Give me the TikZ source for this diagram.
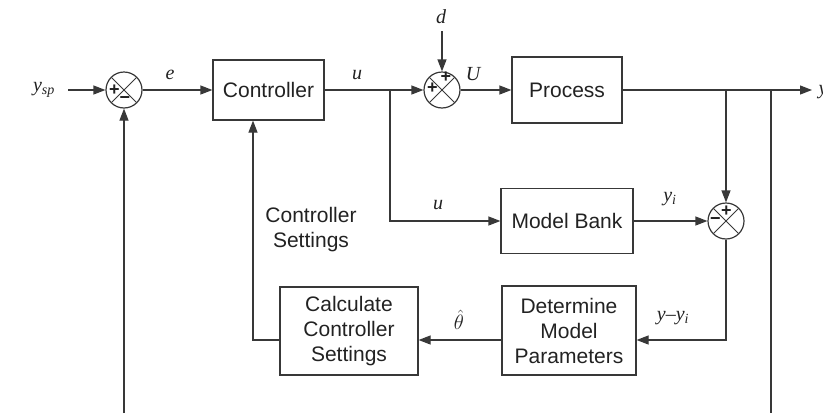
\documentclass[tikz,border=0pt]{standalone}
\usepackage{fontspec}
\setmainfont{Liberation Serif}
\newfontfamily\boxfont{Liberation Sans}
\usetikzlibrary{arrows.meta}
\definecolor{ln}{HTML}{383838}
\definecolor{txt}{HTML}{222222}
\begin{document}
\begin{tikzpicture}[x=1pt,y=-1pt,
  line width=1.2pt, draw=ln,
  blk/.style={draw=ln, line width=1.2pt, inner sep=2pt, align=center, text=txt,
    font=\boxfont\fontsize{21}{25}\selectfont},
  sum/.style={circle, draw=ln, line width=1.2pt, minimum size=36pt, inner sep=0pt,
    path picture={\draw[ln,line width=1pt] (path picture bounding box.north west) -- (path picture bounding box.south east)
      (path picture bounding box.north east) -- (path picture bounding box.south west);}},
  lbl/.style={font=\fontsize{20}{24}\selectfont\itshape, text=txt, inner sep=1pt},
  txtlbl/.style={font=\boxfont\fontsize{21}{25}\selectfont, text=txt, align=center},
  sgn/.style={font=\boxfont\bfseries\fontsize{18}{18}\selectfont, text=txt, inner sep=0pt},
  arr/.style={draw=ln, -{Triangle[length=12pt,width=9pt]}}]
\useasboundingbox (0,0) rectangle (823,413);

% nodes
\node[lbl] (ysp) at (44,90) {y\textsubscript{\itshape sp}};
\node[sum] (s1) at (124,90) {};
\node[sgn] (p1) at (114.5,90) {+};
\node[sgn] (m1) at (125,100.5) {−};
\node[blk, minimum width=111pt, minimum height=60pt] (ctrl) at (268.5,90) {Controller};
\node[sum] (s2) at (442,90) {};
\node[sgn] (p2a) at (432.5,88.5) {+};
\node[sgn] (p2b) at (446,77.5) {+};
\node[blk, minimum width=110pt, minimum height=66pt] (proc) at (567,90) {Process};
\node[sum] (s3) at (726,221) {};
\node[sgn] (p3) at (726.5,211) {+};
\node[sgn] (m3) at (715.5,221) {−};
\node[blk, minimum width=132pt, minimum height=65pt] (mb) at (567,221) {Model Bank};
\node[blk, minimum width=134pt, minimum height=89pt] (det) at (569,330.5) {Determine\\Model\\Parameters};
\node[blk, minimum width=138pt, minimum height=88pt] (calc) at (349,331) {Calculate\\Controller\\Settings};

% labels
\node[lbl] (le) at (170,75) {e};
\node[lbl] (lu1) at (357,75) {u};
\node[lbl] (ld) at (441,17) {d};
\node[lbl] (lU) at (473,74) {U};
\node[lbl, anchor=west, inner sep=0pt] (ly) at (818,92) {y};
\node[lbl] (lu2) at (438,205) {u};
\node[lbl] (lyi) at (670,199) {y\textsubscript{\itshape i}};
\node[lbl] (lerr) at (673,318) {y–y\textsubscript{\itshape i}};
\node[lbl] (lth) at (459,320) {$\hat{\theta}$};
\node[txtlbl] (lcs) at (311,230) {Controller\\Settings};

% coordinates
\coordinate (in) at (68,90);
\coordinate (b1) at (390,90);
\coordinate (b2) at (726,90);
\coordinate (b3) at (771,90);
\coordinate (b3end) at (771,413);
\coordinate (out) at (812,90);
\coordinate (c1) at (726,340);
\coordinate (c2) at (253,340);
\coordinate (fb) at (124,413);
\coordinate (dtop) at (442,31);

% connectors
\draw[arr] (in) -- (s1);
\draw[arr] (s1) -- (ctrl);
\draw[arr] (ctrl) -- (s2);
\draw[arr] (dtop) -- (s2);
\draw[arr] (s2) -- (proc);
\draw[arr] (proc) -- (out);
\draw (b3) -- (b3end);
\draw[arr] (b2) -- (s3);
\draw[arr] (b1) |- (mb.west);
\draw[arr] (mb) -- (s3);
\draw[arr] (s3) -- (c1) -- (det.east|-c1);
\draw[arr] (det.west|-c1) -- (calc.east|-c1);
\draw[arr] (calc.west|-c1) -- (c2) -- (c2|-ctrl.south);
\draw[arr] (fb) -- (s1);
\end{tikzpicture}
\end{document}
